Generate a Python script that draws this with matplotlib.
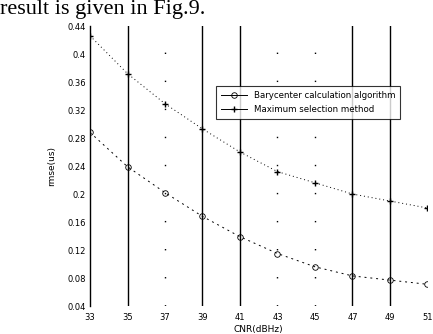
import matplotlib
matplotlib.use("Agg")
import matplotlib.pyplot as plt
import numpy as np

cnr = [33, 35, 37, 39, 41, 43, 45, 47, 49, 51]
bary = [0.288, 0.239, 0.202, 0.168, 0.139, 0.115, 0.096, 0.083, 0.077, 0.071]
maxsel = [0.426, 0.372, 0.329, 0.293, 0.260, 0.232, 0.216, 0.200, 0.190, 0.180]
yticks = [0.04, 0.08, 0.12, 0.16, 0.2, 0.24, 0.28, 0.32, 0.36, 0.4, 0.44]
ytick_labels = ['0.04', '0.08', '0.12', '0.16', '0.2', '0.24', '0.28', '0.32', '0.36', '0.4', '0.44']
solid_grid = [35, 39, 41, 47, 49]
dot_grid = [37, 43, 45]

fig = plt.figure(figsize=(4.33, 3.34), dpi=100)
fig.text(0.0, 1.0, 'result is given in Fig.9.', family='Liberation Serif',
         fontsize=16, va='top', ha='left')

ax = fig.add_axes([0.2079, 0.0838, 0.7793, 0.8383])
ax.set_xlim(33, 51)
ax.set_ylim(0.04, 0.44)

for x in solid_grid:
    ax.axvline(x, color='black', lw=1.0, zorder=1)
for x in dot_grid:
    ax.axvline(x, color='black', lw=1.0, linestyle=(0, (1, 19.2)), zorder=1)

ax.plot(cnr, bary, color='black', lw=0.7, linestyle=(0, (2, 4)), marker='o',
        markersize=4, markerfacecolor='none', markeredgewidth=0.6,
        label='Barycenter calculation algorithm', zorder=3)
ax.plot(cnr, maxsel, color='black', lw=0.7, linestyle=(0, (1, 3)), marker='+',
        markersize=5, markeredgewidth=1.0,
        label='Maximum selection method', zorder=3)

ax.set_xticks(cnr)
ax.set_yticks(yticks)
ax.set_yticklabels(ytick_labels)
ax.tick_params(length=0, labelsize=6, pad=3)
ax.tick_params(axis='x', pad=5)
ax.set_xlabel('CNR(dBHz)', fontsize=6.5, labelpad=2)
ax.set_ylabel('rmse(us)', fontsize=6.5, labelpad=8)

for s in ['top', 'right', 'bottom']:
    ax.spines[s].set_visible(False)
ax.spines['left'].set_linewidth(1.0)

leg = ax.legend(loc='upper left', bbox_to_anchor=(0.36, 0.80), fontsize=6.2,
                frameon=True, fancybox=False, edgecolor='black',
                handlelength=3, borderpad=0.6, labelspacing=0.5)
leg.get_frame().set_linewidth(0.8)
for h in leg.get_lines():
    h.set_linestyle('-')

fig.savefig('out.png', dpi=100)
